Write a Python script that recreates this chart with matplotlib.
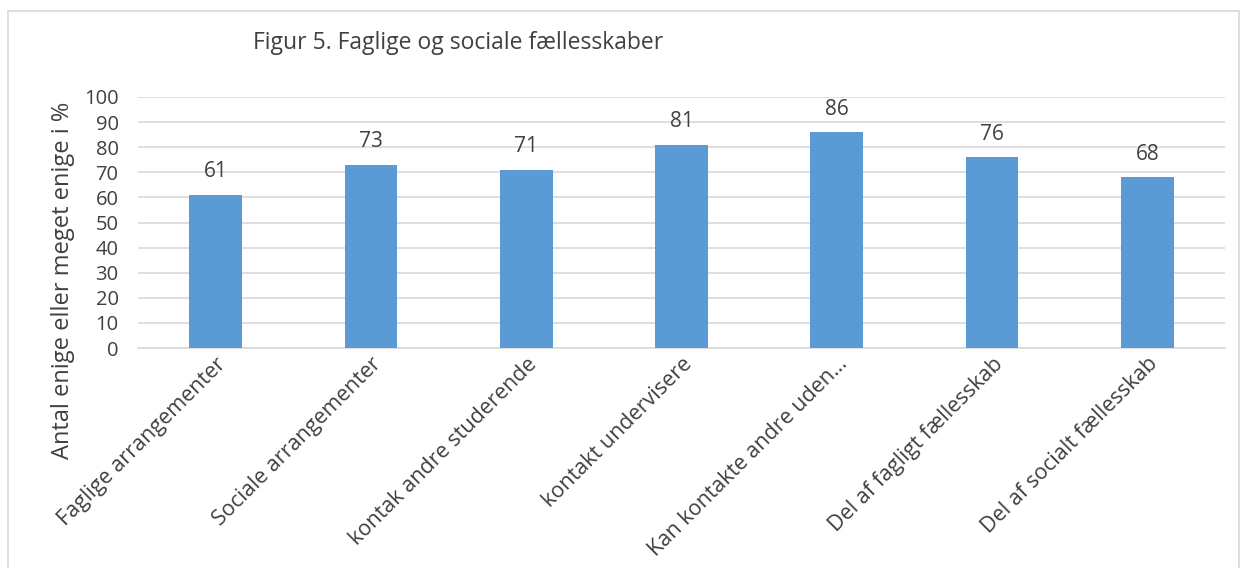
import matplotlib.pyplot as plt
from matplotlib.patches import Rectangle

plt.rcParams['font.family'] = ['Open Sans', 'DejaVu Sans']

categories = ["Faglige arrangementer", "Sociale arrangementer", "kontak andre studerende",
              "kontakt undervisere", "Kan kontakte andre uden…", "Del af fagligt fællesskab",
              "Del af socialt fællesskab"]
values = [61, 73, 71, 81, 86, 76, 68]
yticks = list(range(0, 101, 10))

text_col = "#404040"
bar_col = "#5B9BD5"

fig = plt.figure(figsize=(12.44, 5.68), dpi=100)
ax = fig.add_axes([138 / 1244, 1 - 348 / 568, 1087 / 1244, 251 / 568])

x = range(len(categories))
bars = ax.bar(x, values, width=0.34, color=bar_col, zorder=3)
for b, v in zip(bars, values):
    ax.annotate(str(v), (b.get_x() + b.get_width() / 2, v), xytext=(0, 9),
                textcoords="offset points", ha="center", va="bottom",
                fontsize=15, color=text_col)

ax.set_ylim(0, 100)
ax.set_xlim(-0.5, len(categories) - 0.5)
ax.set_yticks(yticks)
ax.yaxis.grid(True, color="#D9D9D9", linewidth=1.2, zorder=0)
ax.tick_params(axis="y", length=0, labelsize=14.5, labelcolor=text_col, pad=14)
ax.tick_params(axis="x", length=0, labelsize=15.5, labelcolor=text_col, pad=4)
ax.set_xticks(list(x))
ax.set_xticklabels(categories, rotation=45, ha="right", rotation_mode="anchor")
for s in ["top", "right", "left"]:
    ax.spines[s].set_visible(False)
ax.spines["bottom"].set_color("#D9D9D9")
ax.spines["bottom"].set_linewidth(1.2)

ax.set_ylabel("Antal enige eller meget enige i %", fontsize=17, color=text_col)
ax.yaxis.set_label_coords(-0.058, 0.27)

fig.text(253 / 1244, 1 - 43 / 568, "Figur 5. Faglige og sociale fællesskaber",
         fontsize=16.5, color=text_col, va="center", ha="left")

fig.patches.append(Rectangle((8 / 1244, -0.01), 1231 / 1244, 1 - 11 / 568 + 0.01,
                             transform=fig.transFigure, fill=False,
                             edgecolor="#D9D9D9", linewidth=1.2))

fig.savefig("out.png", dpi=100, facecolor="white")
